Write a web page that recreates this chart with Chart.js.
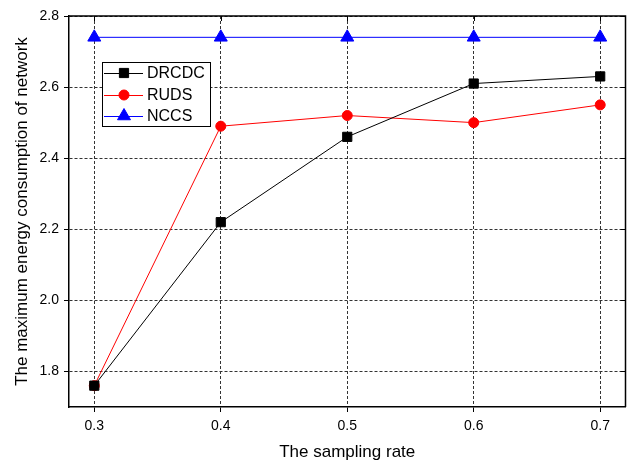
<!DOCTYPE html>
<html>
<head>
<meta charset="utf-8">
<script src="https://cdn.jsdelivr.net/npm/chart.js@4.4.0/dist/chart.umd.min.js"></script>
<style>
  html, body { margin: 0; padding: 0; background: #fff; }
  #wrap { width: 634px; height: 463px; position: relative; }
</style>
</head>
<body>
<div id="wrap"><canvas id="chart"></canvas></div>
<script>
// values
const samplingRates = [0.3, 0.4, 0.5, 0.6, 0.7];
const drcdcValues = [1.76, 2.22, 2.46, 2.61, 2.63];
const rudsValues  = [1.76, 2.49, 2.52, 2.50, 2.55];
const nccsValues  = [2.74, 2.74, 2.74, 2.74, 2.74];
const xTicks = [0.3, 0.4, 0.5, 0.6, 0.7];
const yTicks = [1.8, 2.0, 2.2, 2.4, 2.6, 2.8];

const FONT = 'Arial, "Liberation Sans", sans-serif';

function toPoints(vals) {
  return samplingRates.map((x, i) => ({ x: x, y: vals[i] }));
}

// frame on top/right with inward ticks, plus the legend box
const framePlugin = {
  id: 'frame',
  afterDraw(chart) {
    const ctx = chart.ctx;
    const a = chart.chartArea;
    const xs = chart.scales.x, ys = chart.scales.y;
    ctx.save();
    ctx.strokeStyle = '#000';
    ctx.lineWidth = 1.5;
    ctx.setLineDash([]);
    ctx.beginPath();
    ctx.moveTo(a.left, a.top);
    ctx.lineTo(a.right, a.top);
    ctx.lineTo(a.right, a.bottom);
    ctx.stroke();
    ctx.lineWidth = 1;
    ctx.beginPath();
    xTicks.forEach(v => {
      const px = Math.round(xs.getPixelForValue(v)) + 0.5;
      ctx.moveTo(px, a.top);
      ctx.lineTo(px, a.top + 5);
    });
    yTicks.forEach(v => {
      const py = Math.round(ys.getPixelForValue(v)) + 0.5;
      ctx.moveTo(a.right, py);
      ctx.lineTo(a.right - 5, py);
    });
    ctx.stroke();

    // legend
    const bx = 102, by = 62, bw = 108, bh = 64;
    ctx.fillStyle = '#fff';
    ctx.fillRect(bx, by, bw, bh);
    ctx.strokeStyle = '#000';
    ctx.lineWidth = 1;
    ctx.strokeRect(bx + 0.5, by + 0.5, bw, bh);
    const rows = [73, 95, 116];
    ctx.font = '16px ' + FONT;
    ctx.textBaseline = 'middle';
    chart.data.datasets.forEach((ds, i) => {
      const y = rows[i];
      ctx.strokeStyle = ds.borderColor;
      ctx.lineWidth = 1;
      ctx.beginPath();
      ctx.moveTo(bx + 2, y + 0.5);
      ctx.lineTo(bx + 41, y + 0.5);
      ctx.stroke();
      ctx.fillStyle = ds.pointBackgroundColor;
      ctx.strokeStyle = ds.pointBorderColor;
      Chart.helpers.drawPoint(ctx, {
        pointStyle: ds.pointStyle,
        radius: ds.pointRadius,
        borderWidth: 1,
        rotation: 0
      }, bx + 22, y);
      ctx.fillStyle = '#000';
      ctx.textAlign = 'left';
      ctx.fillText(ds.label, bx + 45, y + 1);
    });
    ctx.restore();
  }
};

const tickFont = { family: FONT, size: 14 };
const titleFont = { family: FONT, size: 17 };

new Chart(document.getElementById('chart'), {
  type: 'line',
  data: {
    datasets: [
      {
        label: 'DRCDC',
        data: toPoints(drcdcValues),
        borderColor: '#000000',
        backgroundColor: '#000000',
        pointBackgroundColor: '#000000',
        pointBorderColor: '#000000',
        pointStyle: 'rect',
        pointRadius: 6.5,
        borderWidth: 1,
        tension: 0
      },
      {
        label: 'RUDS',
        data: toPoints(rudsValues),
        borderColor: '#ff0000',
        backgroundColor: '#ff0000',
        pointBackgroundColor: '#ff0000',
        pointBorderColor: '#ff0000',
        pointStyle: 'circle',
        pointRadius: 5,
        borderWidth: 1,
        tension: 0
      },
      {
        label: 'NCCS',
        data: toPoints(nccsValues),
        borderColor: '#0000ff',
        backgroundColor: '#0000ff',
        pointBackgroundColor: '#0000ff',
        pointBorderColor: '#0000ff',
        pointStyle: 'triangle',
        pointRadius: 7.5,
        borderWidth: 1,
        tension: 0
      }
    ]
  },
  options: {
    responsive: true,
    maintainAspectRatio: false,
    animation: false,
    layout: { padding: { left: 0, top: 16, right: 8, bottom: 0 } },
    plugins: {
      legend: { display: false },
      tooltip: { enabled: false }
    },
    scales: {
      x: {
        type: 'linear',
        min: 0.28,
        max: 0.72,
        afterBuildTicks: s => { s.ticks = xTicks.map(v => ({ value: v })); },
        afterFit: s => { s.height = 56; },
        ticks: {
          color: '#000',
          font: tickFont,
          padding: 6,
          callback: v => v.toFixed(1)
        },
        grid: {
          color: '#333',
          lineWidth: 1,
          drawTicks: true,
          tickLength: 5,
          tickColor: '#000',
          tickBorderDash: []
        },
        border: { display: true, color: '#000', width: 1.5, dash: [3, 2] },
        title: {
          display: true,
          text: 'The sampling rate',
          color: '#000',
          font: titleFont,
          padding: { top: 0, bottom: 0 }
        }
      },
      y: {
        min: 1.7,
        max: 2.8,
        afterBuildTicks: s => { s.ticks = yTicks.map(v => ({ value: v })); },
        afterFit: s => { s.width = 69; },
        ticks: {
          color: '#000',
          font: tickFont,
          padding: 5,
          callback: v => v.toFixed(1)
        },
        grid: {
          color: '#333',
          lineWidth: 1,
          drawTicks: true,
          tickLength: 5,
          tickColor: '#000',
          tickBorderDash: []
        },
        border: { display: true, color: '#000', width: 1.5, dash: [3, 2] },
        title: {
          display: true,
          text: 'The maximum energy consumption of network',
          color: '#000',
          font: titleFont,
          padding: { top: 12, bottom: 0 }
        }
      }
    }
  },
  plugins: [framePlugin]
});
</script>
</body>
</html>
